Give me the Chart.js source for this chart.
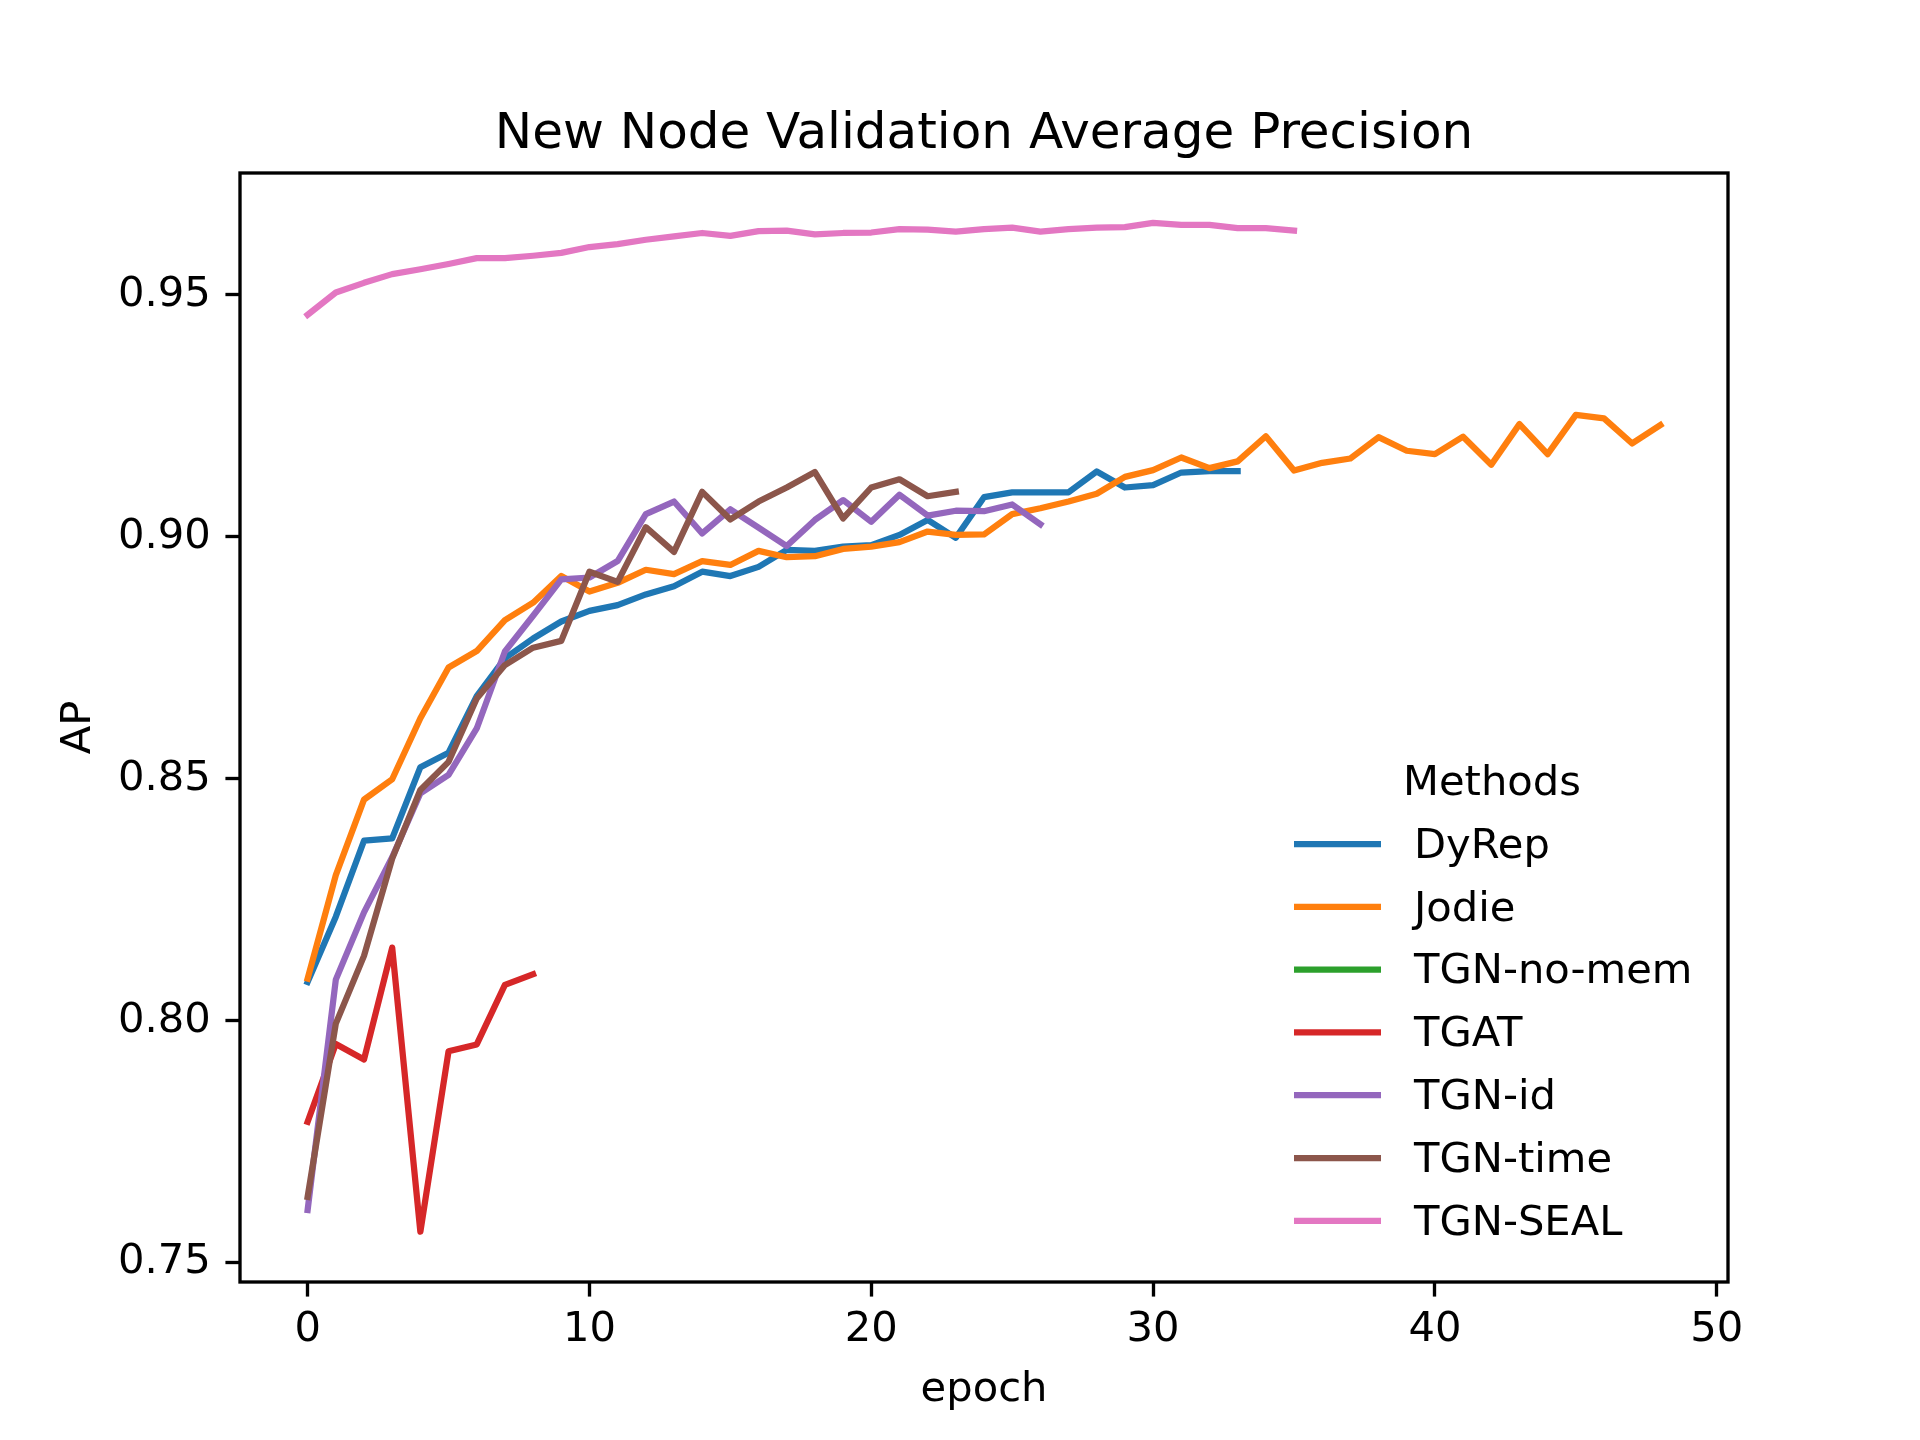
<!DOCTYPE html>
<html>
<head>
<meta charset="utf-8">
<script src="https://cdn.jsdelivr.net/npm/chart.js@4.4.0/dist/chart.umd.min.js"></script>
<style>
  html, body { margin: 0; padding: 0; background: #fff; }
  #ap { display: block; }
</style>
</head>
<body>
<canvas id="ap" width="1920" height="1440" style="width:1920px;height:1440px"></canvas>
<script>
// values, one entry per epoch starting at 0
const dyrep = [0.8080, 0.8215, 0.8372, 0.8377, 0.8524, 0.8554, 0.8671, 0.8749, 0.8790, 0.8825,
  0.8847, 0.8859, 0.8881, 0.8898, 0.8928, 0.8919, 0.8938, 0.8973, 0.8971, 0.8980,
  0.8983, 0.9004, 0.9035, 0.8998, 0.9082, 0.9092, 0.9092, 0.9092, 0.9135, 0.9102,
  0.9107, 0.9133, 0.9136, 0.9136];
const jodie = [0.8087, 0.8301, 0.8457, 0.8499, 0.8625, 0.8730, 0.8764, 0.8828, 0.8864, 0.8919,
  0.8887, 0.8905, 0.8932, 0.8923, 0.8950, 0.8942, 0.8971, 0.8958, 0.8960, 0.8975,
  0.8980, 0.8989, 0.9011, 0.9004, 0.9005, 0.9047, 0.9059, 0.9073, 0.9089, 0.9124,
  0.9138, 0.9164, 0.9142, 0.9156, 0.9208, 0.9137, 0.9153, 0.9162, 0.9206, 0.9178,
  0.9171, 0.9207, 0.9149, 0.9233, 0.9171, 0.9252, 0.9245, 0.9193, 0.9231];
const tgnNoMem = [];
const tgat = [0.7791, 0.7952, 0.7920, 0.8151, 0.7564, 0.7937, 0.7951, 0.8074, 0.8096];
const tgnId = [0.7609, 0.8085, 0.8224, 0.8338, 0.8470, 0.8508, 0.8604, 0.8763, 0.8837, 0.8912,
  0.8916, 0.8950, 0.9047, 0.9073, 0.9007, 0.9057, 0.9019, 0.8981, 0.9035, 0.9076,
  0.9031, 0.9087, 0.9044, 0.9054, 0.9053, 0.9067, 0.9026];
const tgnTime = [0.7636, 0.7994, 0.8134, 0.8335, 0.8477, 0.8535, 0.8666, 0.8735, 0.8771, 0.8785,
  0.8928, 0.8907, 0.9020, 0.8969, 0.9093, 0.9036, 0.9073, 0.9102, 0.9134, 0.9038,
  0.9102, 0.9119, 0.9084, 0.9093];
const tgnSeal = [0.9459, 0.9505, 0.9525, 0.9543, 0.9553, 0.9564, 0.9576, 0.9576, 0.9581, 0.9587,
  0.9599, 0.9605, 0.9614, 0.9621, 0.9628, 0.9622, 0.9632, 0.9633, 0.9625, 0.9628,
  0.9629, 0.9636, 0.9635, 0.9631, 0.9636, 0.9639, 0.9631, 0.9636, 0.9639, 0.9640,
  0.9649, 0.9645, 0.9645, 0.9638, 0.9638, 0.9633];

const methods = ['DyRep', 'Jodie', 'TGN-no-mem', 'TGAT', 'TGN-id', 'TGN-time', 'TGN-SEAL'];
const series = [dyrep, jodie, tgnNoMem, tgat, tgnId, tgnTime, tgnSeal];
const colors = ['#1f77b4', '#ff7f0e', '#2ca02c', '#d62728', '#9467bd', '#8c564b', '#e377c2'];
const xTicks = [0, 10, 20, 30, 40, 50];
const yTicks = [0.75, 0.80, 0.85, 0.90, 0.95];

const FONT = 'DejaVu Sans';
const PT = 300 / 72;   // matplotlib points -> px at 300 dpi

const datasets = series.map((vals, i) => ({
  label: methods[i],
  data: vals.map((v, e) => ({x: e, y: v})),
  borderColor: colors[i],
  backgroundColor: colors[i],
  borderWidth: 1.5 * PT,
  borderJoinStyle: 'round',
  borderCapStyle: 'square',
  pointRadius: 0,
  tension: 0,
  fill: false,
  order: series.length - i   // later series on top, like matplotlib
}));

// frame, title and legend drawn the way matplotlib lays them out
const framePlugin = {
  id: 'frame',
  afterDraw(chart) {
    const {ctx, chartArea: a} = chart;
    ctx.save();
    ctx.strokeStyle = '#000';
    ctx.lineWidth = 0.8 * PT;
    ctx.strokeRect(a.left, a.top, a.right - a.left, a.bottom - a.top);

    ctx.fillStyle = '#000';
    ctx.font = (12 * PT) + 'px "' + FONT + '"';
    ctx.textAlign = 'center';
    ctx.textBaseline = 'alphabetic';
    ctx.fillText('New Node Validation Average Precision', (a.left + a.right) / 2, a.top - 6 * PT);

    // legend, no frame
    const fs = 10 * PT;
    ctx.font = fs + 'px "' + FONT + '"';
    ctx.textBaseline = 'middle';
    ctx.fillText('Methods', 1492, 784);
    ctx.textAlign = 'left';
    methods.forEach((m, i) => {
      const y = 844 + i * 62.8;
      ctx.strokeStyle = colors[i];
      ctx.lineWidth = 1.5 * PT;
      ctx.lineCap = 'butt';
      ctx.beginPath();
      ctx.moveTo(1294, y);
      ctx.lineTo(1381, y);
      ctx.stroke();
      ctx.fillStyle = '#000';
      ctx.fillText(m, 1414, y + 3);
    });
    ctx.restore();
  }
};

const tickFont = {family: FONT, size: 10 * PT};

new Chart(document.getElementById('ap'), {
  type: 'line',
  data: {datasets: datasets},
  options: {
    responsive: false,
    devicePixelRatio: 1,
    animation: false,
    layout: {
      padding: {top: 173, right: 192, left: 0, bottom: 0}
    },
    plugins: {
      legend: {display: false},
      tooltip: {enabled: false},
      title: {display: false}
    },
    scales: {
      x: {
        type: 'linear',
        min: -2.4,
        max: 50.4,
        afterFit: s => { s.height = 158; },
        afterBuildTicks: s => { s.ticks = xTicks.map(v => ({value: v})); },
        border: {display: false},
        grid: {
          drawOnChartArea: false,
          drawTicks: true,
          tickLength: 3.5 * PT,
          tickWidth: 0.8 * PT,
          tickColor: '#000'
        },
        ticks: {
          font: tickFont,
          color: '#000',
          padding: 9,
          maxRotation: 0,
          callback: v => String(v)
        },
        title: {
          display: true,
          text: 'epoch',
          font: tickFont,
          color: '#000',
          padding: {top: 0, bottom: 25}
        }
      },
      y: {
        type: 'linear',
        min: 0.746,
        max: 0.9752,
        afterFit: s => { s.width = 240; },
        afterBuildTicks: s => { s.ticks = yTicks.map(v => ({value: v})); },
        border: {display: false},
        grid: {
          drawOnChartArea: false,
          drawTicks: true,
          tickLength: 3.5 * PT,
          tickWidth: 0.8 * PT,
          tickColor: '#000'
        },
        ticks: {
          font: tickFont,
          color: '#000',
          padding: 3.5 * PT,
          callback: v => v.toFixed(2)
        },
        title: {
          display: true,
          text: 'AP',
          font: tickFont,
          color: '#000',
          padding: {top: 54, bottom: 0}
        }
      }
    }
  },
  plugins: [framePlugin]
});
</script>
</body>
</html>
